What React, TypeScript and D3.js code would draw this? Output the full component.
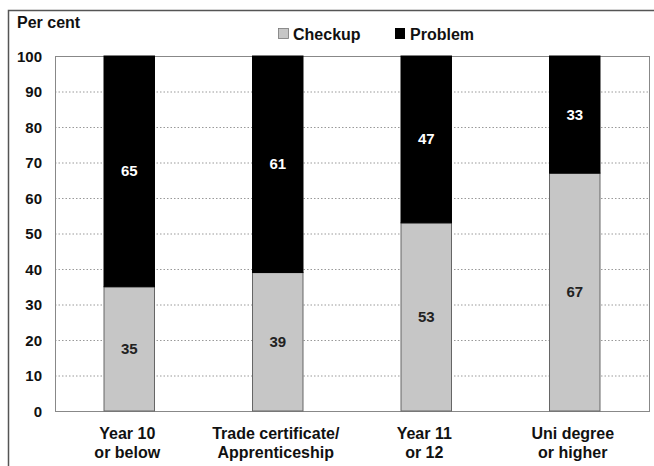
import React from 'react'
import * as d3 from 'd3'

const categories = [['Year 10', 'or below'], ['Trade certificate/', 'Apprenticeship'], ['Year 11', 'or 12'], ['Uni degree', 'or higher']]
const checkup = [35, 39, 53, 67]
const problem = [65, 61, 47, 33]
const yTicks = [0, 10, 20, 30, 40, 50, 60, 70, 80, 90, 100]

const W = 654
const H = 466
const left = 55
const right = 649
const top = 56
const bottom = 411
const font = 'Liberation Sans, Arial, sans-serif'

export default function App() {
  const x = d3.scaleBand<number>().domain(d3.range(categories.length)).range([left, right]).paddingInner(0.66).paddingOuter(0.33)
  const y = d3.scaleLinear().domain([0, 100]).range([bottom, top])
  const bw = x.bandwidth()

  return (
    <svg width={W} height={H} style={{ position: 'absolute', left: 0, top: 0, background: '#fff' }} fontFamily={font} fontWeight="bold">
      {/* outer frame */}
      <path d={`M8.5,${H} L8.5,10.5 L${W},10.5`} fill="none" stroke="#555" strokeWidth={1.5} />
      <text x={17} y={28} fontSize={16} fill="#111">Per cent</text>

      {/* legend */}
      <rect x={278.5} y={28.5} width={10} height={10} fill="#c6c6c6" stroke="#777" strokeWidth={0.8} />
      <text x={293} y={40} fontSize={16} fill="#111">Checkup</text>
      <rect x={395} y={28} width={10} height={11} fill="#000" />
      <text x={410} y={40} fontSize={16} fill="#111">Problem</text>

      {/* grid */}
      {yTicks.filter(t => t > 0 && t < 100).map(t => (
        <line key={t} x1={left} x2={right} y1={y(t) + 0.5} y2={y(t) + 0.5} stroke="#999" strokeWidth={1} strokeDasharray="1.5,2" />
      ))}
      <rect x={left + 0.5} y={top + 0.5} width={right - left} height={bottom - top} fill="none" stroke="#888" strokeWidth={1} />

      {/* bars */}
      {categories.map((c, i) => {
        const bx = x(i)!
        return (
          <g key={i}>
            <rect x={bx} y={y(checkup[i])} width={bw} height={y(0) - y(checkup[i])} fill="#c6c6c6" stroke="#666" strokeWidth={1} />
            <rect x={bx} y={y(checkup[i] + problem[i])} width={bw} height={y(checkup[i]) - y(checkup[i] + problem[i])} fill="#000" stroke="#000" strokeWidth={1} />
            <text x={bx + bw / 2} y={(y(0) + y(checkup[i])) / 2 + 5} textAnchor="middle" fontSize={15} fill="#222">{checkup[i]}</text>
            <text x={bx + bw / 2} y={(y(checkup[i]) + y(100)) / 2 + 5} textAnchor="middle" fontSize={15} fill="#fff">{problem[i]}</text>
            {c.map((line, j) => (
              <text key={j} x={bx + bw / 2 - 2} y={439 + j * 19} textAnchor="middle" fontSize={16} fill="#111">{line}</text>
            ))}
          </g>
        )
      })}

      {/* y axis labels */}
      {yTicks.map(t => (
        <text key={t} x={42} y={y(t) + 5.5} textAnchor="end" fontSize={15} fill="#111">{t}</text>
      ))}
    </svg>
  )
}
